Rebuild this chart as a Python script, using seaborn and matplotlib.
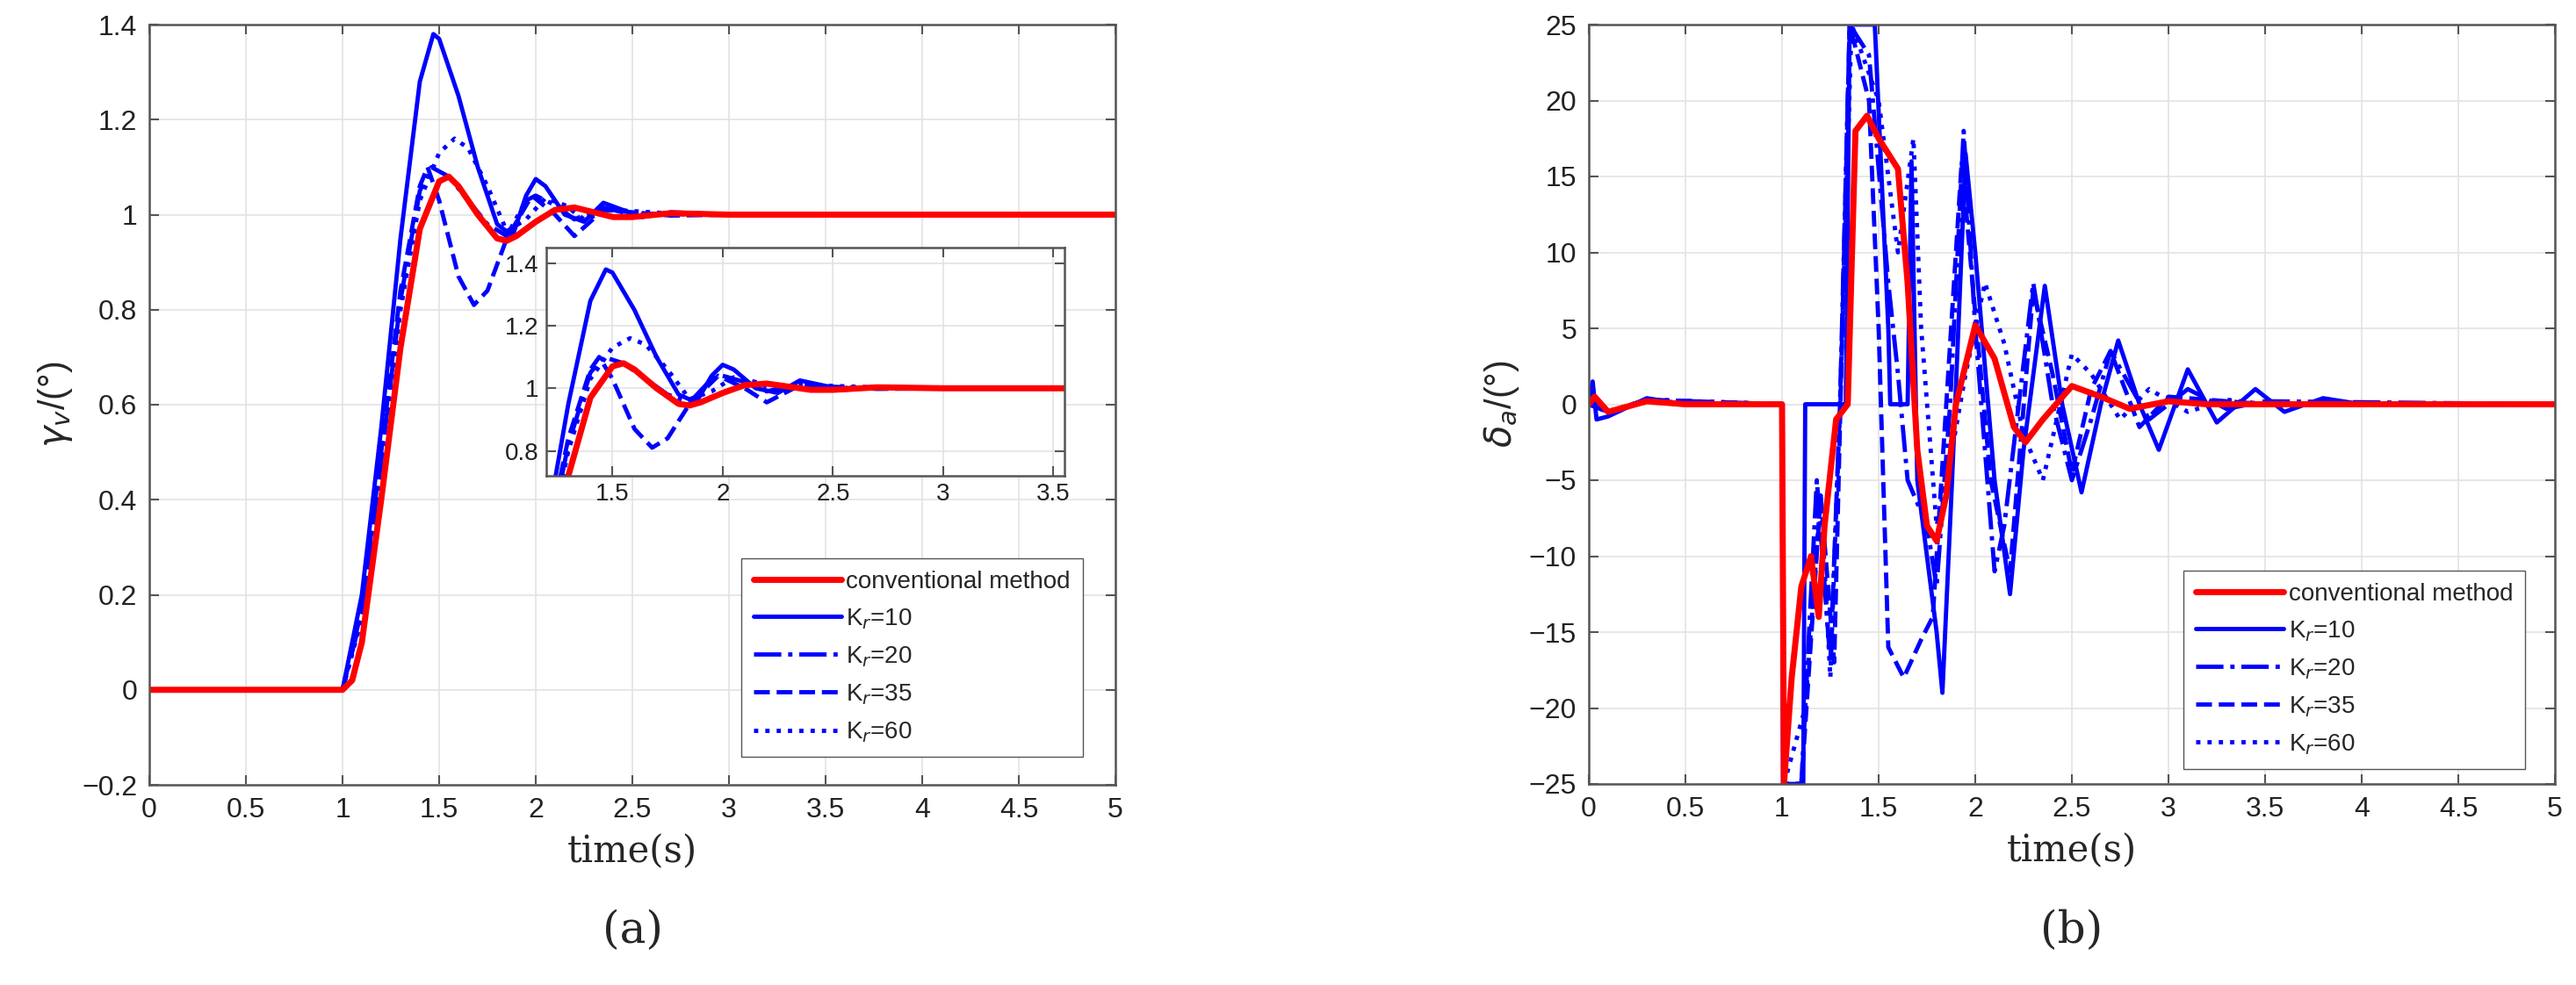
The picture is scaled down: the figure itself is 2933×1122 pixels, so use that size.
import matplotlib
matplotlib.use("Agg")
import matplotlib.pyplot as plt
import seaborn as sns

sns.set_theme(style="whitegrid")
plt.rcParams['font.family'] = ['Liberation Sans', 'DejaVu Sans']

# ---- panel (a): gamma_v ----
g_conv_t = [0, 1.0, 1.05, 1.1, 1.2, 1.3, 1.4, 1.5, 1.55, 1.6, 1.7, 1.8, 1.85, 1.9, 2.0, 2.1, 2.2, 2.3, 2.4, 2.5, 2.7, 3.0, 5.0]
g_conv_v = [0, 0, 0.02, 0.1, 0.4, 0.72, 0.97, 1.07, 1.08, 1.06, 1.0, 0.95, 0.945, 0.955, 0.985, 1.01, 1.015, 1.005, 0.995, 0.995, 1.003, 1.0, 1.0]
g_k10_t = [0, 1.0, 1.1, 1.2, 1.3, 1.4, 1.47, 1.5, 1.6, 1.7, 1.8, 1.88, 1.95, 2.0, 2.05, 2.15, 2.25, 2.35, 2.45, 2.55, 2.7, 3.0, 5.0]
g_k10_v = [0, 0, 0.2, 0.55, 0.95, 1.28, 1.38, 1.37, 1.25, 1.1, 0.98, 0.955, 1.04, 1.075, 1.06, 1.0, 0.985, 1.025, 1.01, 0.995, 1.005, 1.0, 1.0]
g_k20_t = [0, 1.0, 1.1, 1.2, 1.3, 1.4, 1.46, 1.55, 1.65, 1.75, 1.85, 1.95, 2.0, 2.1, 2.2, 2.35, 2.5, 2.7, 3.0, 5.0]
g_k20_v = [0, 0, 0.16, 0.48, 0.82, 1.05, 1.1, 1.08, 1.03, 0.98, 0.955, 1.03, 1.04, 1.02, 0.99, 1.015, 1.0, 1.003, 1.0, 1.0]
g_k35_t = [0, 1.0, 1.1, 1.2, 1.3, 1.4, 1.44, 1.5, 1.6, 1.68, 1.75, 1.85, 1.98, 2.1, 2.2, 2.35, 2.5, 2.7, 3.0, 5.0]
g_k35_v = [0, 0, 0.17, 0.5, 0.84, 1.06, 1.1, 1.03, 0.87, 0.81, 0.84, 0.95, 1.04, 1.0, 0.955, 1.01, 1.005, 0.998, 1.0, 1.0]
g_k60_t = [0, 1.0, 1.1, 1.2, 1.3, 1.4, 1.5, 1.58, 1.65, 1.75, 1.85, 1.95, 2.05, 2.15, 2.25, 2.4, 2.6, 2.8, 3.1, 5.0]
g_k60_v = [0, 0, 0.15, 0.46, 0.8, 1.03, 1.13, 1.16, 1.14, 1.06, 0.965, 0.99, 1.035, 1.02, 0.99, 1.01, 1.005, 1.0, 1.0, 1.0]

# ---- panel (b): delta_a ----
d_conv_t = [0, 0.03, 0.1, 0.3, 0.5, 1.0, 1.01, 1.05, 1.1, 1.15, 1.19, 1.22, 1.28, 1.34, 1.38, 1.44, 1.5, 1.6, 1.65, 1.7, 1.75, 1.8, 1.85, 1.9, 2.0, 2.1, 2.2, 2.26, 2.35, 2.5, 2.65, 2.8, 3.0, 3.2, 5.0]
d_conv_v = [0, 0.5, -0.5, 0.2, 0, 0, -25, -18, -12, -10, -14, -8, -1, 0, 18, 19, 17.5, 15.5, 8, -3, -8, -9, -6, 0, 5.2, 3, -1.5, -2.5, -1, 1.2, 0.5, -0.3, 0.2, 0, 0]
d_k10_t = [0, 0.02, 0.04, 0.1, 0.3, 0.5, 1.0, 1.005, 1.11, 1.12, 1.33, 1.35, 1.48, 1.55, 1.56, 1.65, 1.67, 1.7, 1.8, 1.83, 1.88, 1.95, 2.0, 2.1, 2.18, 2.25, 2.36, 2.45, 2.55, 2.65, 2.74, 2.85, 2.95, 3.1, 3.25, 3.45, 3.6, 3.8, 4.0, 5.0]
d_k10_v = [0, 1.5, -1, -0.8, 0.4, 0, 0, -25, -25, 0, 0, 25, 25, 5, 0, 0, 16, -5, -15, -19, -5, 16.5, 10, -5, -12.5, -3, 7.8, 0, -5.8, 0, 4.2, 0, -3, 2.3, -1.2, 1.0, -0.5, 0.4, 0, 0]
d_k20_t = [0, 0.1, 0.3, 1.0, 1.01, 1.1, 1.18, 1.25, 1.3, 1.35, 1.45, 1.55, 1.6, 1.65, 1.75, 1.8, 1.87, 1.94, 2.0, 2.1, 2.15, 2.3, 2.4, 2.5, 2.6, 2.7, 2.9, 3.1, 3.3, 3.5, 5.0]
d_k20_v = [0, -0.5, 0.3, 0, -25, -25, -5, -17, 0, 25, 23, 8, 2, -5, -8, -12, 0, 18, 5, -11, -8, 8, 0, -5, -1, 3.5, -1, 1, -0.3, 0.2, 0]
d_k35_t = [0, 0.1, 0.3, 1.0, 1.01, 1.1, 1.2, 1.27, 1.35, 1.45, 1.5, 1.55, 1.63, 1.72, 1.78, 1.85, 1.93, 2.0, 2.08, 2.18, 2.3, 2.4, 2.5, 2.6, 2.7, 2.85, 3.0, 3.2, 3.5, 5.0]
d_k35_v = [0, -0.5, 0.3, 0, -25, -25, -6, -17, 25, 20, 5, -16, -18, -15.5, -14, 0, 16, 6, -5, -11, 7.5, 2, -4.5, 1, 3.5, -1.5, 0.5, 0.3, 0, 0]
d_k60_t = [0, 0.1, 0.3, 1.0, 1.01, 1.12, 1.2, 1.25, 1.3, 1.36, 1.5, 1.6, 1.68, 1.72, 1.8, 1.88, 1.95, 2.05, 2.15, 2.25, 2.35, 2.5, 2.6, 2.75, 2.9, 3.1, 3.3, 3.5, 5.0]
d_k60_v = [0, -0.5, 0.3, 0, -25, -20, -6, -18, 0, 25, 20, 10, 17.5, 5, -8, -3, 2, 8, 4, -2, -5, 3.3, 2, -1, 1, -0.5, 0.3, 0, 0]

labels = ["conventional method", "K$_r$=10", "K$_r$=20", "K$_r$=35", "K$_r$=60"]
styles = [("red", "-", 5), ("blue", "-", 3.5), ("blue", "-.", 3.5), ("blue", "--", 3.5), ("blue", ":", 3.5)]

gam = [(g_conv_t, g_conv_v), (g_k10_t, g_k10_v), (g_k20_t, g_k20_v), (g_k35_t, g_k35_v), (g_k60_t, g_k60_v)]
dlt = [(d_conv_t, d_conv_v), (d_k10_t, d_k10_v), (d_k20_t, d_k20_v), (d_k35_t, d_k35_v), (d_k60_t, d_k60_v)]

W, H = 2933, 1122
fig = plt.figure(figsize=(W/100, H/100), dpi=100)

def frac(x0, y0, x1, y1):
    return [x0/W, 1-y1/H, (x1-x0)/W, (y1-y0)/H]

def draw(ax, series, order):
    for i in order:
        t, v = series[i]
        c, ls, lw = styles[i]
        sns.lineplot(x=t, y=v, ax=ax, color=c, linestyle=ls, linewidth=lw, label=labels[i], estimator=None, sort=False)

def style_ax(ax, fs=23):
    ax.set_facecolor("white")
    for s in ax.spines.values():
        s.set_color("#555555"); s.set_linewidth(1.8); s.set_visible(True)
    ax.grid(True, color="#e3e3e3", linewidth=1.2)
    ax.tick_params(labelsize=fs, direction="in", length=8, width=1.5, color="#555555",
                   left=True, bottom=True, top=True, right=True, labelcolor="#222222", pad=10)

def add_legend(ax, anchor):
    h, l = ax.get_legend_handles_labels()
    hd = {lab: hh for hh, lab in zip(h, l)}
    ax.legend([hd[x] for x in labels], labels, loc="lower right", bbox_to_anchor=anchor, borderaxespad=0,
              fontsize=20, labelspacing=0.55, frameon=True, fancybox=False, edgecolor="#555555",
              framealpha=1, handlelength=3.6, handletextpad=0.2, borderpad=0.5)

xt = [0, 0.5, 1, 1.5, 2, 2.5, 3, 3.5, 4, 4.5, 5]
xtl = ["0", "0.5", "1", "1.5", "2", "2.5", "3", "3.5", "4", "4.5", "5"]
order = [1, 2, 3, 4, 0]

ax1 = fig.add_axes(frac(170, 28, 1270, 894))
draw(ax1, gam, order)
ax1.set_xlim(0, 5); ax1.set_ylim(-0.2, 1.4)
ax1.set_xticks(xt); ax1.set_xticklabels(xtl)
ax1.set_yticks([-0.2, 0, 0.2, 0.4, 0.6, 0.8, 1, 1.2, 1.4])
ax1.set_yticklabels(["\u22120.2", "0", "0.2", "0.4", "0.6", "0.8", "1", "1.2", "1.4"])
style_ax(ax1)
ax1.set_xlabel("time(s)", fontsize=30, family="DejaVu Serif", labelpad=8)
ax1.set_ylabel(r"$\gamma_v$/(°)", fontsize=30, labelpad=6)
add_legend(ax1, (0.966, 0.037))

ins = fig.add_axes(frac(622, 282, 1212, 542))
draw(ins, gam, order)
ins.get_legend().remove()
ins.set_xlim(1.2, 3.55); ins.set_ylim(0.72, 1.45)
ins.set_xticks([1.5, 2, 2.5, 3, 3.5]); ins.set_xticklabels(["1.5", "2", "2.5", "3", "3.5"])
ins.set_yticks([0.8, 1, 1.2, 1.4]); ins.set_yticklabels(["0.8", "1", "1.2", "1.4"])
style_ax(ins, fs=20)
ins.tick_params(pad=6)

ax2 = fig.add_axes(frac(1809, 28, 2909, 893))
draw(ax2, dlt, order)
ax2.set_xlim(0, 5); ax2.set_ylim(-25, 25)
ax2.set_xticks(xt); ax2.set_xticklabels(xtl)
ax2.set_yticks(list(range(-25, 26, 5)))
ax2.set_yticklabels([("\u2212" + str(-v)) if v < 0 else str(v) for v in range(-25, 26, 5)])
style_ax(ax2)
ax2.set_xlabel("time(s)", fontsize=30, family="DejaVu Serif", labelpad=8)
ax2.set_ylabel(r"$\delta_a$/(°)", fontsize=30, labelpad=6)
add_legend(ax2, (0.969, 0.02))

fig.text(720/W, 1-1060/H, "(a)", fontsize=36, family="DejaVu Serif", ha="center", va="center")
fig.text(2359/W, 1-1060/H, "(b)", fontsize=36, family="DejaVu Serif", ha="center", va="center")

fig.savefig("out.png", dpi=100, facecolor="white")
